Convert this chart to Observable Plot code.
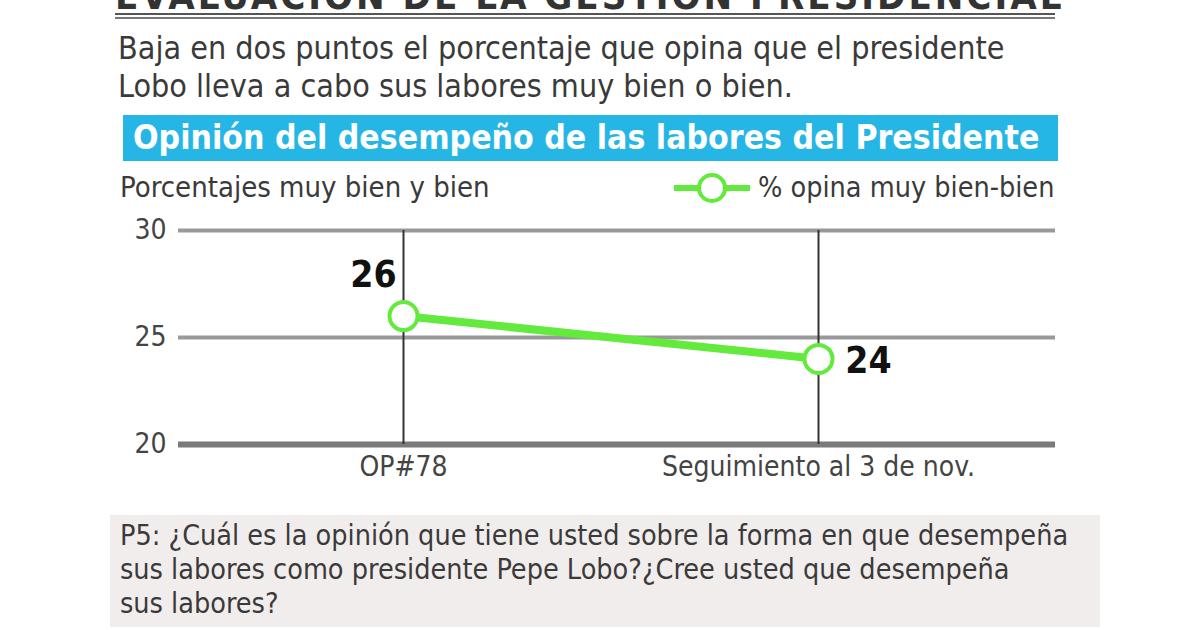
<!DOCTYPE html>
<html>
<head>
<meta charset="utf-8">
<script src="https://cdn.jsdelivr.net/npm/d3@7"></script>
<script src="https://cdn.jsdelivr.net/npm/@observablehq/plot@0.6"></script>
<style>
  html, body { margin: 0; padding: 0; background: #fff; }
  body { width: 1200px; height: 630px; position: relative; overflow: hidden;
         font-family: "Liberation Sans Narrow", "DejaVu Sans Condensed", "Roboto", sans-serif; color: #3a3a3a; }
  .abs { position: absolute; }
  #title { top: -24px; left: 115px; width: 940px; font-weight: bold; font-size: 38px; line-height: 40px;
           letter-spacing: 3px; color: #333; white-space: nowrap; }
  #rule1 { top: 13px; left: 115px; width: 940px; height: 2px; background: #555; }
  #rule2 { top: 17px; left: 115px; width: 940px; height: 2px; background: #777; }
  #sub { top: 29px; left: 118px; font-size: 32px; line-height: 38px; white-space: nowrap; }
  #banner { top: 115px; left: 123px; width: 935px; height: 46px; background: #26b6e6; color: #fff;
            font-weight: bold; font-size: 33.5px; line-height: 46px; padding-left: 10px; box-sizing: border-box; white-space: nowrap; }
  #ylab { top: 170px; left: 120px; font-size: 29px; line-height: 34px; white-space: nowrap; }
  #legend { top: 171px; left: 672px; font-size: 28.5px; line-height: 34px; white-space: nowrap; display: flex; align-items: center; }
  #chart { top: 205px; left: 0; }
  #note { top: 515px; left: 110px; width: 990px; height: 112px; background: #f2eded; box-sizing: border-box;
          padding: 4px 10px; font-size: 28.5px; line-height: 34px; white-space: nowrap; }
</style>
</head>
<body>
<div id="title" class="abs">EVALUACIÓN DE LA GESTIÓN PRESIDENCIAL</div>
<div id="rule1" class="abs"></div>
<div id="rule2" class="abs"></div>
<div id="sub" class="abs">Baja en dos puntos el porcentaje que opina que el presidente<br>Lobo lleva a cabo sus labores muy bien o bien.</div>
<div id="banner" class="abs">Opinión del desempeño de las labores del Presidente</div>
<div id="ylab" class="abs">Porcentajes muy bien y bien</div>
<div id="legend" class="abs"></div>
<div id="chart" class="abs"></div>
<div id="note" class="abs">P5: ¿Cuál es la opinión que tiene usted sobre la forma en que desempeña<br>sus labores como presidente Pepe Lobo?¿Cree usted que desempeña<br>sus labores?</div>
<script>
const categories = ["OP#78", "Seguimiento al 3 de nov."];
const values = [26, 24];
const yTicks = [20, 25, 30];
const seriesName = "% opina muy bien-bien";

const green = "#62ea3c";
const data = categories.map((c, i) => ({cat: c, value: values[i]}));

// legend
const leg = document.getElementById("legend");
leg.innerHTML = `<svg width="82" height="34"><line x1="2" y1="17" x2="78" y2="17" stroke="${green}" stroke-width="6"/>` +
  `<circle cx="40" cy="17" r="13" fill="#fff" stroke="${green}" stroke-width="4"/></svg>` +
  `<span style="margin-left:4px">${seriesName}</span>`;

const chart = Plot.plot({
  width: 1200,
  height: 280,
  marginLeft: 178,
  marginRight: 145,
  marginTop: 25,
  marginBottom: 41,
  style: {fontFamily: '"Liberation Sans Narrow", "DejaVu Sans Condensed", sans-serif', fontSize: "28px", color: "#444", background: "transparent"},
  x: {type: "point", domain: categories, padding: 0, insetLeft: 225, insetRight: 237, tickSize: 0, tickPadding: 12, label: null},
  y: {domain: [20, 30], ticks: yTicks, tickSize: 0, tickPadding: 12, label: null},
  marks: [
    Plot.ruleY(yTicks.filter(v => v !== 20), {stroke: "#999", strokeWidth: 4}),
    Plot.ruleY([20], {stroke: "#7a7a7a", strokeWidth: 6}),
    Plot.ruleX(categories, {y1: 20, y2: 30, stroke: "#333", strokeWidth: 2}),
    Plot.line(data, {x: "cat", y: "value", stroke: green, strokeWidth: 8}),
    Plot.dot(data, {x: "cat", y: "value", r: 14, fill: "#fff", stroke: green, strokeWidth: 4}),
    Plot.text(data.slice(0, 1), {x: "cat", y: "value", text: d => String(d.value), dx: -30, dy: -41, fontSize: 37, fontWeight: "bold", fill: "#111"}),
    Plot.text(data.slice(1), {x: "cat", y: "value", text: d => String(d.value), dx: 50, dy: 2, fontSize: 37, fontWeight: "bold", fill: "#111"})
  ]
});
document.getElementById("chart").appendChild(chart);
</script>
</body>
</html>
